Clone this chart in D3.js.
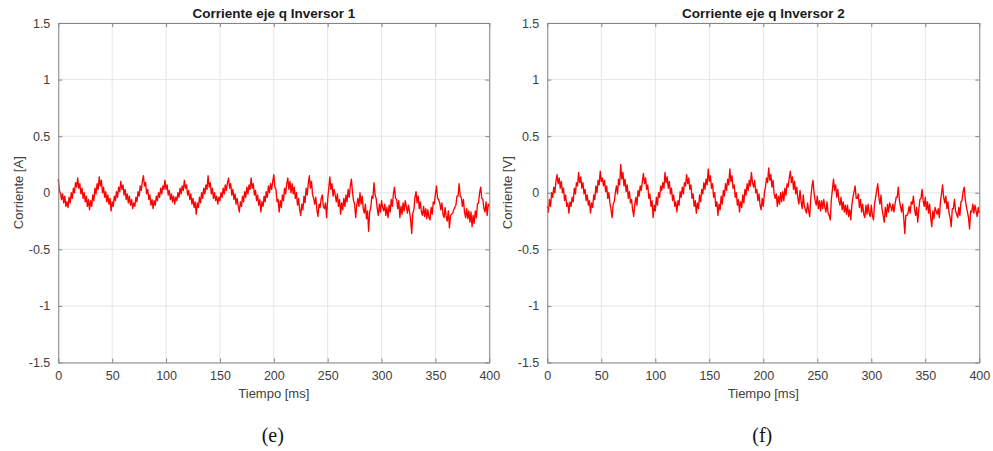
<!DOCTYPE html>
<html>
<head>
<meta charset="utf-8">
<script src="https://cdn.jsdelivr.net/npm/d3@7"></script>
<style>
  html, body { margin: 0; padding: 0; background: #fff; }
  svg { display: block; }
</style>
</head>
<body>
<svg id="fig" width="993" height="451"></svg>
<script>
// Sampling: one value per millisecond, 0..400 ms
const timeStart = 0;
const timeStep = 1;

// q-axis current, inverter 1 [A]
const iq1 = [
 .12,.02,0,-.06,-.01,-.09,-.03,-.12,-.08,-.13,-.04,-.09,0,-.05,.04,0,.09,.05,.13,.04,
 .08,-.01,.04,-.05,0,-.08,-.03,-.12,-.06,-.15,-.07,-.12,-.02,-.07,.04,-.01,.08,.03,.14,.06,
 .11,0,.05,-.04,.01,-.08,-.02,-.1,-.05,-.16,-.08,-.12,-.03,-.07,.01,-.04,.05,.01,.1,.03,
 .07,-.02,.03,-.06,-.01,-.09,-.03,-.11,-.06,-.14,-.09,-.12,-.04,-.08,.01,-.03,.06,.02,.1,.15,
 .06,.09,-.01,.03,-.06,-.02,-.11,-.06,-.14,-.07,-.11,-.03,-.07,0,-.04,.04,-.01,.06,.03,.11,
 .03,.07,-.02,.02,-.06,-.01,-.08,-.03,-.1,-.04,-.07,0,-.04,.04,-.01,.06,.02,.11,.04,.07,
 -.02,.02,-.06,-.01,-.1,-.05,-.13,-.08,-.19,-.09,-.13,-.04,-.09,0,-.05,.04,-.01,.07,.03,.15,
 .05,.09,-.01,.04,-.05,0,-.07,-.03,-.1,-.04,-.07,0,-.04,.04,-.01,.07,.02,.09,.13,.04,
 .08,-.02,.03,-.06,-.01,-.1,-.05,-.12,-.17,-.08,-.12,-.03,-.08,.01,-.04,.05,-.01,.07,.03,.13,
 .04,.08,-.02,.02,-.07,-.02,-.11,-.06,-.17,-.08,-.12,-.03,-.08,.01,-.04,.06,0,.08,.03,.1,
 .16,.05,.03,-.08,-.06,-.17,-.07,-.13,-.02,-.07,.04,-.01,.08,.13,.03,.1,0,.08,-.01,.05,
 -.05,0,-.11,-.05,-.15,-.2,-.1,-.15,-.03,-.09,.04,-.02,.08,.15,.04,.1,-.02,-.05,-.1,-.04,
 -.15,-.21,-.1,-.13,-.05,-.02,-.12,-.14,-.09,-.22,-.06,.04,.14,.03,.08,-.03,.03,-.02,-.08,-.01,
 -.12,-.06,-.19,-.09,-.15,-.05,-.12,-.02,-.08,.03,-.04,.06,.12,.01,-.07,-.1,-.22,-.11,-.05,-.12,
 0,-.1,-.03,-.14,-.18,-.1,-.23,-.16,-.34,-.17,-.13,-.03,-.05,.09,-.02,-.05,-.14,-.2,-.1,-.17,
 -.07,-.13,-.16,-.1,-.2,-.13,-.22,-.11,-.17,-.06,-.12,-.01,.05,-.05,-.06,-.14,-.07,-.22,-.12,-.19,
 -.09,-.16,-.07,-.12,-.18,-.11,-.17,-.24,-.36,-.18,-.15,-.04,.01,-.09,-.03,-.14,-.08,-.17,-.2,-.12,
 -.21,-.14,-.23,-.15,-.22,-.24,-.13,-.19,-.08,-.1,-.01,.06,-.05,-.06,-.09,-.15,-.09,-.19,-.22,-.13,
 -.21,-.25,-.16,-.31,-.2,-.19,-.18,-.15,-.13,-.11,-.03,-.03,.08,-.03,-.04,-.12,-.06,-.17,-.22,-.14,
 -.23,-.16,-.26,-.17,-.3,-.2,-.27,-.16,-.22,-.1,-.09,0,.05,-.05,-.06,-.14,-.17,-.08,-.2,-.1,
 -.12
];

// q-axis current, inverter 2 [V]
const iq2 = [
 -.12,-.17,-.06,-.12,0,-.04,.05,0,.1,.16,.08,.13,.04,.1,0,.04,-.07,-.02,-.12,-.09,
 -.18,-.08,-.12,-.04,-.08,.04,-.01,.09,.06,.18,.09,.14,.04,.09,-.01,.03,-.07,-.02,-.11,-.07,
 -.18,-.09,-.13,-.02,-.06,.06,0,.11,.07,.19,.1,.13,.06,.11,.01,.06,-.05,0,-.09,-.15,
 -.22,-.1,-.08,0,.06,-.01,.12,.07,.25,.12,.18,.06,.12,.01,.07,-.05,.01,-.09,-.06,-.15,
 -.21,-.1,-.04,-.11,.02,-.03,.06,.02,.1,.17,.08,.13,.03,.07,-.05,-.01,-.12,-.07,-.22,-.11,
 -.16,-.04,-.11,0,-.04,.06,.02,.09,.04,.18,.09,.14,.04,.1,-.01,.04,-.07,-.02,-.12,-.08,
 -.17,-.07,-.11,.01,-.04,.05,-.01,.09,.06,.16,.08,.13,.03,.07,-.05,-.01,-.12,-.07,-.18,-.09,
 -.14,-.02,-.08,.03,-.01,.09,.03,.12,.07,.21,.1,.15,.04,.08,-.04,0,-.12,-.08,-.2,-.1,
 -.15,-.03,-.1,.02,-.03,.08,.02,.12,.07,.21,.1,.15,.04,.07,-.04,0,-.11,-.06,-.17,-.08,
 -.13,-.02,-.09,.03,-.02,.08,.02,.11,.06,.18,.09,.05,.11,0,.03,-.07,-.01,-.11,-.15,-.05,
 -.12,0,.05,.13,.09,.22,.11,.16,.05,.11,-.01,-.05,-.01,-.12,-.03,-.1,0,-.08,.01,-.07,
 .04,-.02,.08,.05,.13,.19,.09,.14,.03,.1,-.01,.05,-.05,-.1,.02,-.08,-.14,-.02,-.12,-.15,
 -.18,-.09,-.16,-.21,-.04,.05,.11,0,-.07,-.11,-.03,-.14,-.07,-.16,-.07,-.14,-.06,-.13,-.17,-.08,
 -.18,-.2,-.24,-.06,.03,.12,.02,.07,-.04,.03,-.07,-.11,-.04,-.15,-.08,-.17,-.11,-.19,-.11,-.21,
 -.15,-.24,-.11,-.04,.01,.06,-.05,-.05,-.01,-.13,-.06,-.17,-.1,-.19,-.22,-.11,-.19,-.1,-.18,-.21,
 -.11,-.2,-.24,-.1,-.04,.02,.08,-.04,-.1,-.02,-.15,-.2,-.26,-.13,-.21,-.1,-.17,-.09,-.12,-.16,
 -.1,-.17,-.1,-.04,-.04,.05,-.06,-.12,-.17,-.1,-.22,-.36,-.2,-.2,-.18,-.12,-.18,-.08,-.1,-.03,
 -.14,-.2,-.13,-.26,-.15,-.06,-.05,.03,-.07,-.12,-.04,-.15,-.08,-.18,-.1,-.22,-.3,-.16,-.23,-.13,
 -.16,-.19,-.14,-.22,-.08,-.01,.07,-.04,-.09,-.03,-.14,-.08,-.18,-.22,-.3,-.14,-.14,-.06,-.16,-.19,
 -.22,-.13,-.2,-.08,-.07,.01,.05,-.06,-.12,-.17,-.22,-.32,-.16,-.17,-.1,-.18,-.11,-.16,-.21,-.13,
 -.18
];

const xTicks = [0, 50, 100, 150, 200, 250, 300, 350, 400];
const yTicks = [-1.5, -1, -0.5, 0, 0.5, 1, 1.5];
const yTickLabels = ["-1.5", "-1", "-0.5", "0", "0.5", "1", "1.5"];

const panels = [
  { title: "Corriente eje q Inversor 1", ylabel: "Corriente [A]", xlabel: "Tiempo [ms]", caption: "(e)", values: iq1, left: 58.3, right: 489.3 },
  { title: "Corriente eje q Inversor 2", ylabel: "Corriente [V]", xlabel: "Tiempo [ms]", caption: "(f)", values: iq2, left: 547.3, right: 979.3 }
];

const plotTop = 23, plotBottom = 362.5;
const svg = d3.select("#fig");
const fontSans = "Arial, 'Liberation Sans', Helvetica, sans-serif";
const axisColor = "#858585";
const textColor = "#404040";

panels.forEach(p => {
  const x = d3.scaleLinear().domain([0, 400]).range([p.left, p.right]);
  const y = d3.scaleLinear().domain([-1.5, 1.5]).range([plotBottom, plotTop]);
  const g = svg.append("g");

  // grid
  g.append("g").selectAll("line").data(xTicks).join("line")
    .attr("x1", d => x(d)).attr("x2", d => x(d))
    .attr("y1", plotTop).attr("y2", plotBottom)
    .attr("stroke", "#e6e6e6").attr("stroke-width", 1);
  g.append("g").selectAll("line").data(yTicks).join("line")
    .attr("x1", p.left).attr("x2", p.right)
    .attr("y1", d => y(d)).attr("y2", d => y(d))
    .attr("stroke", "#e6e6e6").attr("stroke-width", 1);

  // signal
  const line = d3.line()
    .x((d, i) => x(timeStart + i * timeStep))
    .y(d => y(d));
  g.append("path").datum(p.values)
    .attr("d", line)
    .attr("fill", "none")
    .attr("stroke", "#ff0000")
    .attr("stroke-width", 1.35)
    .attr("stroke-linejoin", "round");

  // axes: ticks pointing inward on all four sides
  const fmt = d => yTickLabels[yTicks.indexOf(d)];
  const styleAxis = sel => {
    sel.select(".domain").attr("stroke", axisColor).attr("stroke-width", 1).attr("fill", "none");
    sel.selectAll(".tick line").attr("stroke", axisColor);
    sel.selectAll(".tick text").attr("fill", textColor)
      .style("font-family", fontSans).style("font-size", "12.5px");
  };
  g.append("g").attr("transform", `translate(0,${plotBottom})`)
    .call(d3.axisBottom(x).tickValues(xTicks).tickSizeInner(-4).tickSizeOuter(0).tickPadding(9).tickFormat(d3.format("d")))
    .call(styleAxis);
  g.append("g").attr("transform", `translate(0,${plotTop})`)
    .call(d3.axisTop(x).tickValues(xTicks).tickSizeInner(-4).tickSizeOuter(0).tickFormat(""))
    .call(styleAxis);
  g.append("g").attr("transform", `translate(${p.left},0)`)
    .call(d3.axisLeft(y).tickValues(yTicks).tickSizeInner(-4).tickSizeOuter(0).tickPadding(8).tickFormat(fmt))
    .call(styleAxis);
  g.append("g").attr("transform", `translate(${p.right},0)`)
    .call(d3.axisRight(y).tickValues(yTicks).tickSizeInner(-4).tickSizeOuter(0).tickFormat(""))
    .call(styleAxis);

  const cx = (p.left + p.right) / 2;
  // title
  g.append("text").attr("x", cx).attr("y", 17.5)
    .attr("text-anchor", "middle")
    .style("font-family", fontSans).style("font-weight", "bold").style("font-size", "13.5px")
    .attr("fill", "#1a1a1a").text(p.title);
  // x label
  g.append("text").attr("x", cx).attr("y", 398)
    .attr("text-anchor", "middle")
    .style("font-family", fontSans).style("font-size", "13px")
    .attr("fill", textColor).text(p.xlabel);
  // y label
  g.append("text")
    .attr("transform", `translate(${p.left - 35},${(plotTop + plotBottom) / 2}) rotate(-90)`)
    .attr("text-anchor", "middle")
    .style("font-family", fontSans).style("font-size", "13px")
    .attr("fill", textColor).text(p.ylabel);
  // caption
  svg.append("text").attr("x", cx - 1).attr("y", 442)
    .attr("text-anchor", "middle")
    .style("font-family", "'Liberation Serif', 'Times New Roman', serif").style("font-size", "20px")
    .attr("fill", "#111").text(p.caption);
});
</script>
</body>
</html>
